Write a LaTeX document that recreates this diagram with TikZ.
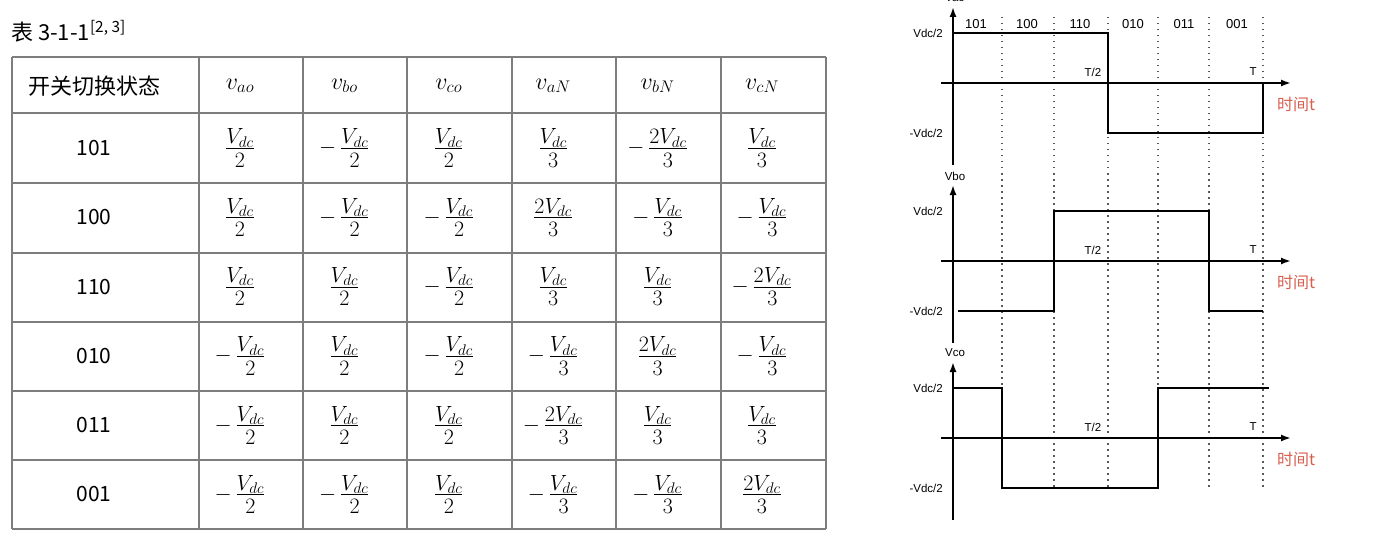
\RequirePackage{fix-cm}
\documentclass[tikz,border=0pt]{standalone}
\usepackage{amsmath}
\usepackage{fontspec}
\newfontfamily\cjkfont{Noto Sans CJK SC}
\newfontfamily\plotfont{Liberation Sans}
\usetikzlibrary{arrows.meta}
\definecolor{gridgray}{RGB}{125,125,125}
\definecolor{timered}{RGB}{215,95,78}

% cell entries
\newcommand{\vfrac}[2]{\frac{\displaystyle #1}{\displaystyle #2\rule{0pt}{0.8em}}}
\newcommand{\halfP}{\vfrac{V_{dc}}{2}}
\newcommand{\halfM}{-\,\vfrac{V_{dc}}{2}}
\newcommand{\thirdP}{\vfrac{V_{dc}}{3}}
\newcommand{\thirdM}{-\,\vfrac{V_{dc}}{3}}
\newcommand{\twoP}{\vfrac{2V_{dc}}{3}}
\newcommand{\twoM}{-\,\vfrac{2V_{dc}}{3}}

\begin{document}
\begin{tikzpicture}[x=1pt,y=-1pt,>={Latex[length=10pt,width=7pt]},
    cell/.style={inner sep=0pt,font=\fontsize{22}{26}\selectfont},
    headcell/.style={inner sep=0pt,font=\fontsize{24}{28}\selectfont},
    statecell/.style={inner sep=0pt,font=\cjkfont\fontsize{21}{25}\selectfont},
    plotlbl/.style={inner sep=0pt,font=\plotfont\fontsize{11.5}{13}\selectfont},
    timelbl/.style={inner sep=0pt,text=timered,font=\cjkfont\fontsize{16}{18}\selectfont},
    wave/.style={line width=2pt},
    axis/.style={line width=1.8pt,->},
    guide/.style={line width=1.5pt,gray!70!black,dash pattern=on 1.5pt off 4.5pt}]

    \fill[white] (0,0) rectangle (1380,548);
    \useasboundingbox (0,0) rectangle (1380,548);

    % the table
    \node[statecell,anchor=west,font=\cjkfont\fontsize{22}{26}\selectfont] (title) at (11,31) {表 3-1-1\textsuperscript{[2, 3]}};
    \foreach \x in {12,199,303,407,512,616,721,826}
        \draw[gridgray,line width=1.4pt] (\x,57) -- (\x,529);
    \foreach \y in {57,113,183,253,322,391,460,529}
        \draw[gridgray,line width=1.4pt] (12,\y) -- (826,\y);

    \node[statecell,font=\cjkfont\fontsize{22}{26}\selectfont] (head) at (94,86) {开关切换状态};
    \foreach \v [count=\i] in {ao,bo,co,aN,bN,cN}
        \node[headcell] (h\i) at ({240+(\i-1)*104.4},86) {$v_{\v}$};

    \foreach \state/\ca/\cb/\cc/\cd/\ce/\cf [count=\r] in {
        101/\halfP/\halfM/\halfP/\thirdP/\twoM/\thirdP,
        100/\halfP/\halfM/\halfM/\twoP/\thirdM/\thirdM,
        110/\halfP/\halfP/\halfM/\thirdP/\thirdP/\twoM,
        010/\halfM/\halfP/\halfM/\thirdM/\twoP/\thirdM,
        011/\halfM/\halfP/\halfP/\twoM/\thirdP/\thirdP,
        001/\halfM/\halfM/\halfP/\thirdM/\thirdM/\twoP}
    {
        \pgfmathsetmacro{\ry}{148+(\r-1)*69.3}
        \node[statecell] (s\r) at (94,\ry) {\state};
        \node[cell] (r\r a) at (240,\ry) {$\ca$};
        \node[cell] (r\r b) at (344.4,\ry) {$\cb$};
        \node[cell] (r\r c) at (448.8,\ry) {$\cc$};
        \node[cell] (r\r d) at (553.2,\ry) {$\cd$};
        \node[cell] (r\r e) at (657.6,\ry) {$\ce$};
        \node[cell] (r\r f) at (762,\ry) {$\cf$};
    }

    % the three phase waveforms
    \foreach \x in {1002,1054,1108,1158,1209,1263}
        \draw[guide] (\x,17) -- (\x,487);
    \foreach \s/\x in {101/976,100/1027,110/1080,010/1133,011/1184,001/1237}
        \node[plotlbl,font=\plotfont\fontsize{13}{15}\selectfont] (st\s) at (\x,24) {\s};

    \foreach \oy/\nm/\k in {83/Vao/a,261/Vbo/b,438/Vco/c}
    {
        \coordinate (o\k) at (953,\oy);
        \draw[axis] (941,\oy) -- (1291,\oy);
        \draw[axis] (953,\oy+82) -- (953,\oy-76);
        \node[plotlbl] (n\k) at (955,\oy-85) {\nm};
        \node[plotlbl,anchor=east] (hi\k) at (943,\oy-50) {Vdc/2};
        \node[plotlbl,anchor=east] (lo\k) at (943,\oy+50) {-Vdc/2};
        \node[plotlbl] (th\k) at (1093,\oy-11) {T/2};
        \node[plotlbl] (tt\k) at (1253,\oy-11) {T};
        \node[timelbl] (tm\k) at (1296,\oy+21) {时间t};
    }

    \draw[wave] (953,33) -- (1108,33) -- (1108,133) -- (1263,133) -- (1263,83);
    \draw[wave] (958,311) -- (1054,311) -- (1054,211) -- (1209,211) -- (1209,311) -- (1263,311);
    \draw[wave] (953,388) -- (1002,388) -- (1002,488) -- (1158,488) -- (1158,388) -- (1269,388);
\end{tikzpicture}
\end{document}
